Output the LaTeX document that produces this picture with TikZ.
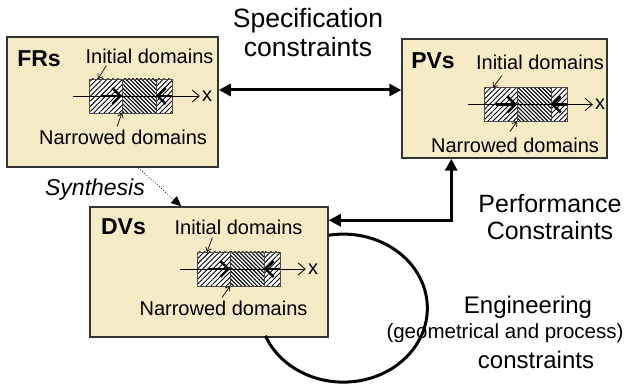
\documentclass[tikz,border=0pt]{standalone}
\usepackage{fontspec}
\setmainfont{Liberation Sans}
\usetikzlibrary{positioning,arrows.meta,patterns.meta}
\definecolor{boxfill}{RGB}{245,235,196}
\definecolor{boxline}{RGB}{51,51,51}
\tikzset{
  varbox/.style={draw=boxline,line width=1.5pt,fill=boxfill,inner sep=0pt},
  lbl/.style={font=\fontsize{20}{22}\selectfont,inner sep=0pt},
  boxname/.style={font=\fontsize{23}{26}\selectfont\bfseries,inner sep=0pt},
  lighthatch/.style={draw=black!70,line width=0.6pt,minimum height=34pt,inner sep=0pt,outer sep=0pt,
    preaction={fill=white},pattern={Lines[angle=45,distance=3.6pt,line width=0.9pt]}},
  darkhatch/.style={draw=black!70,line width=0.6pt,minimum height=34pt,inner sep=0pt,outer sep=0pt,
    preaction={fill=white},pattern={Lines[angle=-45,distance=2.8pt,line width=1.1pt]}},
  axisline/.style={line width=0.8pt,-{Straight Barb[length=7pt,width=12pt]},shorten >=2pt},
  narrowarrow/.style={line width=2.4pt,-{Straight Barb[length=8pt,width=16pt]}},
  pointer/.style={line width=0.7pt,-{Straight Barb[length=4pt,width=6pt]}},
  bigarrow/.style={line width=3pt,{Triangle[length=12pt,width=12pt]}-{Triangle[length=12pt,width=12pt]}},
  bigtext/.style={align=center,inner sep=0pt}
}
\begin{document}
\begin{tikzpicture}[x=1pt,y=1pt]
\useasboundingbox (0,0) rectangle (629,385);

% boxes
\node[varbox,minimum width=211pt,minimum height=130pt] (fr) at (112.5,283) {};
\node[varbox,minimum width=205pt,minimum height=119pt] (pv) at (504.5,286.5) {};
\node[varbox,minimum width=238pt,minimum height=130pt] (dv) at (209,113) {};

% FRs
\node[boxname] (frname) at (39,326.5) {FRs};
\node[lbl] (frinit) at (149.5,329) {Initial domains};
\node[lighthatch,minimum width=33pt,anchor=west] (frA) at (89,289) {};
\node[darkhatch,minimum width=34pt,right=0pt of frA] (frB) {};
\node[lighthatch,minimum width=16pt,right=0pt of frB] (frC) {};
\coordinate (frax) at (73,289);
\node[lbl] (frx) at (207,289) {x};
\draw[axisline] (frax) -- (frx.west);
\draw[narrowarrow] ([xshift=12pt]frA.west) -- (frA.east);
\draw[narrowarrow] (frC.east) -- (frB.east);
\node[lbl] (frnarrow) at (123,248) {Narrowed domains};
\draw[pointer] ([xshift=21pt,yshift=-2pt]frinit.south west) -- ([xshift=9pt]frA.north west);
\draw[pointer] ([xshift=-6pt,yshift=3pt]frnarrow.north) -- (frA.south east);

% PVs
\node[boxname] (pvname) at (433,324.5) {PVs};
\node[lbl] (pvinit) at (540,323) {Initial domains};
\node[lighthatch,minimum width=33pt,anchor=west] (pvA) at (484,280.5) {};
\node[darkhatch,minimum width=34pt,right=0pt of pvA] (pvB) {};
\node[lighthatch,minimum width=16pt,right=0pt of pvB] (pvC) {};
\coordinate (pvax) at (468,280.5);
\node[lbl] (pvx) at (600,280.5) {x};
\draw[axisline] (pvax) -- (pvx.west);
\draw[narrowarrow] ([xshift=12pt]pvA.west) -- (pvA.east);
\draw[narrowarrow] (pvC.east) -- (pvB.east);
\node[lbl] (pvnarrow) at (515,240) {Narrowed domains};
\draw[pointer] ([xshift=26pt,yshift=-6pt]pvinit.south west) -- ([xshift=9pt]pvA.north west);
\draw[pointer] ([xshift=-5pt,yshift=6pt]pvnarrow.north) -- (pvA.south east);

% DVs
\node[boxname] (dvname) at (123.5,158) {DVs};
\node[lbl] (dvinit) at (238.5,158) {Initial domains};
\node[lighthatch,minimum width=33pt,anchor=west] (dvA) at (197,116) {};
\node[darkhatch,minimum width=34pt,right=0pt of dvA] (dvB) {};
\node[lighthatch,minimum width=16pt,right=0pt of dvB] (dvC) {};
\coordinate (dvax) at (180,116);
\node[lbl] (dvx) at (313,116) {x};
\draw[axisline] (dvax) -- (dvx.west);
\draw[narrowarrow] ([xshift=12pt]dvA.west) -- (dvA.east);
\draw[narrowarrow] (dvC.east) -- (dvB.east);
\node[lbl] (dvnarrow) at (223.5,77) {Narrowed domains};
\draw[pointer] ([xshift=38pt,yshift=-3pt]dvinit.south west) -- ([xshift=10pt]dvA.north west);
\draw[pointer] ([xshift=-1.5pt,yshift=3pt]dvnarrow.north) -- (dvA.south east);

% constraints between the boxes
\node[bigtext,font=\fontsize{26.5}{29}\selectfont] (spec) at (308,352) {Specification\\constraints};
\draw[bigarrow] ([yshift=12pt]fr.east) -- ([yshift=8.5pt]pv.west);

\node[font=\fontsize{23}{26}\selectfont\itshape,inner sep=0pt] (synth) at (95,195) {Synthesis};
\draw[dotted,line width=0.8pt,-{Triangle[length=10pt,width=9pt]}] ([xshift=132pt]fr.south west) -- ([xshift=92pt]dv.north west);

\node[bigtext,font=\fontsize{25}{27}\selectfont] (perf) at (550,168) {Performance\\Constraints};
\draw[bigarrow] ([yshift=-14pt]dv.north east) -| ([xshift=50pt]pv.south west);

\draw[line width=3pt] ([yshift=-29pt]dv.north east) arc[start angle=100,end angle=-158,x radius=84pt,y radius=74pt];
\node[font=\fontsize{24}{26}\selectfont,inner sep=0pt] (eng) at (528,78) {Engineering};
\node[font=\fontsize{20.5}{22}\selectfont,inner sep=0pt] (engsub) at (505,52) {(geometrical and process)};
\node[font=\fontsize{24}{26}\selectfont,inner sep=0pt] (engcon) at (536,25) {constraints};
\end{tikzpicture}
\end{document}
